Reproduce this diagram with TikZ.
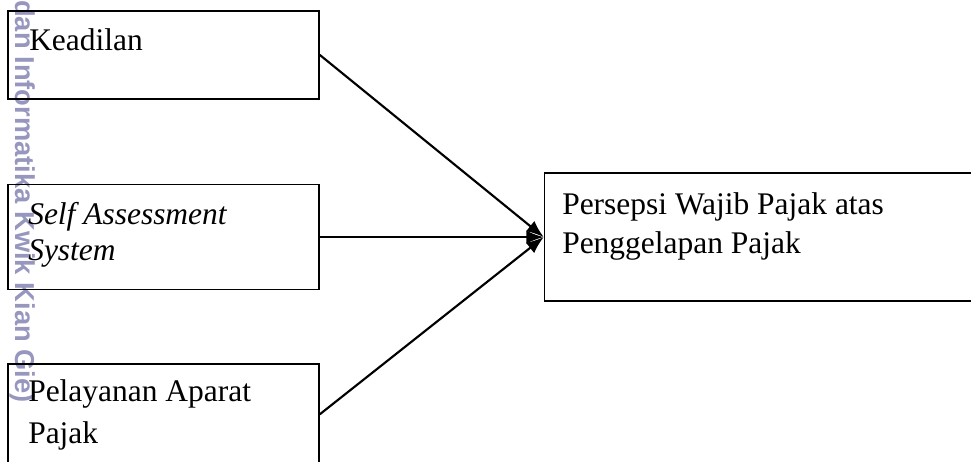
\documentclass[tikz,border=0pt]{standalone}
\usepackage{fontspec}
\setmainfont{Liberation Serif}
\setsansfont{Liberation Sans}
\usetikzlibrary{arrows.meta,positioning}
\definecolor{wmark}{RGB}{150,150,190}

\begin{document}
\begin{tikzpicture}[x=0.75pt,y=-0.75pt,>={Latex[length=13pt,width=10pt]},
  every node/.style={inner sep=0pt},
  varbox/.style={draw,line width=1.3pt,minimum width=233.25pt},
  lbl/.style={font=\fontsize{23.6pt}{#1}\selectfont,align=left,anchor=north west},
  lbl/.default=28pt,
  conn/.style={->,line width=1.6pt}]
  \useasboundingbox (0,0) rectangle (971,461);
  % watermark along the left edge
  \node[font=\sffamily\bfseries\fontsize{20.5pt}{24pt}\selectfont,text=wmark,rotate=-90,anchor=base west] (wm) at (15,0) {dan Informatika Kwik Kian Gie)};

  \node[varbox,minimum height=66pt,anchor=north west] (keadilan) at (7,10) {};
  \node[varbox,minimum height=78.75pt,below=63pt of keadilan] (sas) {};
  \node[varbox,minimum height=78pt,below=54.75pt of sas] (aparat) {};
  \node[draw,line width=1.3pt,minimum width=325pt,minimum height=96pt,right=168pt of sas] (persepsi) {};

  \node[lbl] (tkeadilan) at (29,28.5) {Keadilan};
  \node[lbl=27pt] (tsas) at (28,202) {\itshape Self Assessment\\\itshape System};
  \node[lbl=31.5pt] (taparat) at (28,379.5) {Pelayanan Aparat\\Pajak};
  \node[lbl=29.25pt] (tpersepsi) at (562,192.5) {Persepsi Wajib Pajak atas\\Penggelapan Pajak};

  \draw[conn] (keadilan.east) -- (persepsi.west);
  \draw[conn] (sas.east) -- (persepsi.west);
  \draw[conn] ([yshift=1.5pt]aparat.east) -- (persepsi.west);
\end{tikzpicture}
\end{document}
